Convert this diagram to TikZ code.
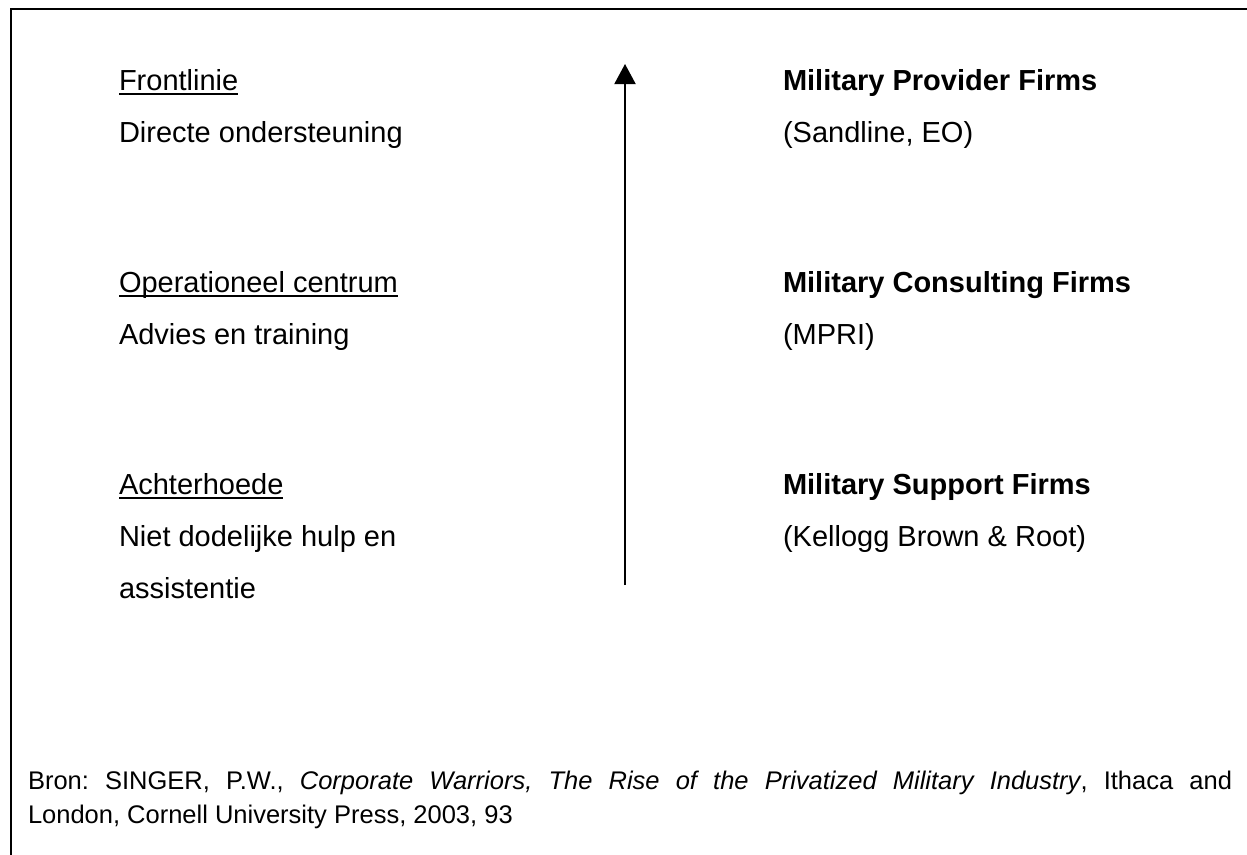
\documentclass[tikz,border=0pt]{standalone}
\usepackage{fontspec}
\setmainfont{Liberation Sans}
\usetikzlibrary{arrows.meta}
\newcommand\ulbox[1]{\setbox0\hbox{#1}\rlap{\rule[-4.5pt]{\wd0}{2pt}}\box0}
\newcommand\justline[2]{\makebox[#1][s]{\frenchspacing\spaceskip=.278em plus 1fil\xspaceskip=.278em plus 1fil #2}}
\tikzset{
  txt/.style={anchor=base west, inner sep=0pt, outer sep=0pt, font=\fontsize{29pt}{34pt}\selectfont},
  bold/.style={txt, font=\fontsize{29pt}{34pt}\selectfont\bfseries},
  srctxt/.style={anchor=base west, inner sep=0pt, outer sep=0pt, font=\fontsize{25.5pt}{30pt}\selectfont},
  frame/.style={line width=2pt, line cap=rect},
  axis/.style={line width=2pt, -{Triangle[width=21pt,length=20pt]}}
}
\begin{document}
\begin{tikzpicture}[x=1pt,y=-1pt]
\useasboundingbox (0,0) rectangle (1247,854);
\fill[white] (0,0) rectangle (1247,854);
% frame
\coordinate (fbl) at (10.5,856);
\coordinate (ftl) at (10.5,9);
\coordinate (ftr) at (1249,9);
\draw[frame] (fbl) -- (ftl) -- (ftr);
% left column
\node[txt] (l1a) at (119,90) {\ulbox{Frontlinie}};
\node[txt] (l1b) at (119,142) {Directe ondersteuning};
\node[txt] (l2a) at (119,292) {\ulbox{Operationeel centrum}};
\node[txt] (l2b) at (119,344) {Advies en training};
\node[txt] (l3a) at (119,494) {\ulbox{Achterhoede}};
\node[txt] (l3b) at (119,546) {Niet dodelijke hulp en};
\node[txt] (l3c) at (119,598) {assistentie};
% right column
\node[bold] (r1a) at (783,90) {Military Provider Firms};
\node[txt] (r1b) at (783,142) {(Sandline, EO)};
\node[bold] (r2a) at (783,292) {Military Consulting Firms};
\node[txt] (r2b) at (783,344) {(MPRI)};
\node[bold] (r3a) at (783,494) {Military Support Firms};
\node[txt] (r3b) at (783,546) {(Kellogg Brown \& Root)};
% arrow
\coordinate (abot) at (625,585);
\coordinate (atop) at (625,64);
\draw[axis] (abot) -- (atop);
% source
\node[srctxt] (src1) at (28,789) {\justline{1204pt}{Bron: SINGER, P.W., \textit{Corporate Warriors, The Rise of the Privatized Military Industry}, Ithaca and}};
\node[srctxt] (src2) at (28,823) {London, Cornell University Press, 2003, 93};
\end{tikzpicture}
\end{document}
